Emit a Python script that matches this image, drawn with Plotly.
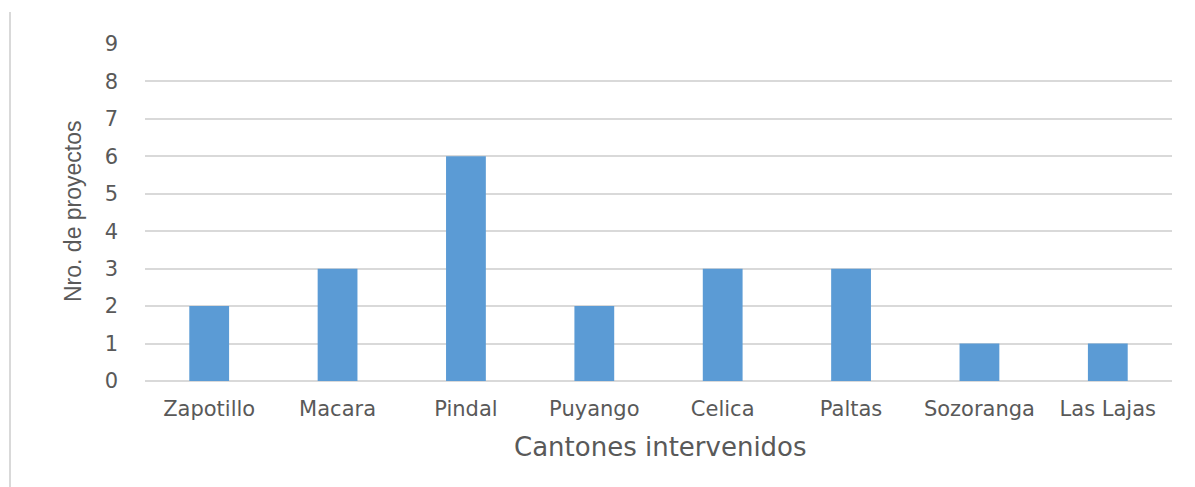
import plotly.graph_objects as go

categories = ["Zapotillo", "Macara", "Pindal", "Puyango", "Celica", "Paltas", "Sozoranga", "Las Lajas"]
values = [2, 3, 6, 2, 3, 3, 1, 1]
y_ticks = [0, 1, 2, 3, 4, 5, 6, 7, 8, 9]

# page body has an 8px offset; figure coordinates = screen - 8
OFF = 8
W, H = 1195 - OFF, 487 - OFF
L, R, T, B = 145 - OFF, W - (1172 - OFF), 44 - OFF, H - (381 - OFF)
PW, PH = W - L - R, H - T - B

def px(x):
    return (x - 145) / PW

def py(y):
    return (381 - y) / PH

fig = go.Figure(go.Bar(x=categories, y=values, marker=dict(color="#5b9bd5", line=dict(width=0))))

tick_font = dict(family="DejaVu Sans", size=21, color="#595959")
fig.update_layout(
    width=W, height=H,
    margin=dict(l=L, r=R, t=T, b=B, autoexpand=False),
    plot_bgcolor="white", paper_bgcolor="white",
    bargap=0.69,
    showlegend=False,
    font=dict(family="DejaVu Sans", color="#595959", size=21),
    xaxis=dict(
        showgrid=False, showline=False, zeroline=False,
        tickfont=tick_font, ticks="", ticklabelstandoff=13,
    ),
    yaxis=dict(
        range=[0, 9], tickvals=y_ticks, showgrid=True, gridcolor="#d9d9d9", gridwidth=1.8,
        zeroline=True, zerolinecolor="#d9d9d9", zerolinewidth=1.8,
        showline=False, ticks="", ticklabelstandoff=26,
        tickfont=tick_font,
    ),
)

fig.add_annotation(text="Cantones intervenidos", xref="paper", yref="paper",
                   x=px(660), y=py(447), xanchor="center", yanchor="middle",
                   showarrow=False, font=dict(family="DejaVu Sans", size=26, color="#595959"))
fig.add_annotation(text="Nro. de proyectos", xref="paper", yref="paper",
                   x=px(73), y=py(211), xanchor="center", yanchor="middle", textangle=-90,
                   showarrow=False, font=dict(family="Liberation Sans", size=23, color="#595959"))

fig.add_shape(type="line", xref="paper", yref="paper",
              x0=px(10), x1=px(10), y0=py(12), y1=py(487),
              line=dict(color="#d9d9d9", width=2))

fig.write_html("out.html")
